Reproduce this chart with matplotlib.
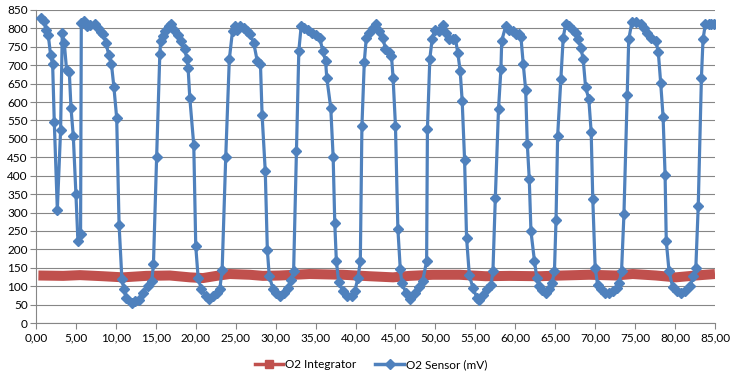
import matplotlib
matplotlib.use("Agg")
import matplotlib.pyplot as plt
from matplotlib.lines import Line2D
import numpy as np

plt.rcParams['font.family'] = ['Lato', 'DejaVu Sans']

sensor_x = [0.67, 1.04, 1.25, 1.54, 1.83, 2.08, 2.29, 2.67, 3.08, 3.29, 3.54, 3.83, 4.17, 4.38, 4.67,
            5.0, 5.25, 5.58, 5.67, 6.0, 6.4, 6.8, 7.4, 7.8, 8.1, 8.4, 8.75, 9.1, 9.45, 9.75,
            10.1, 10.4, 10.75, 11.0, 11.3, 11.96, 12.4, 12.9, 13.4, 14.0, 14.5, 14.7, 15.1, 15.5, 15.6,
            15.9, 16.1, 16.7, 16.96, 17.25, 17.8, 18.2, 18.6, 18.9, 19.04, 19.25, 19.75, 20.0, 20.3, 20.7,
            21.25, 21.7, 22.2, 22.6, 23.0, 23.3, 23.75, 24.2, 24.6, 24.9, 25.2, 25.6, 26.0, 26.4, 26.8,
            27.25, 27.7, 28.1, 28.3, 28.7, 28.96, 29.2, 29.7, 30.1, 30.6, 31.1, 31.5, 31.96, 32.25, 32.6,
            32.9, 33.2, 33.6, 34.0, 34.6, 35.1, 35.5, 35.9, 36.25, 36.4, 36.9, 37.2, 37.4, 37.6, 37.9,
            38.4, 38.9, 39.5, 39.9, 40.3, 40.6, 40.8, 41.1, 41.35, 41.7, 42.2, 42.6, 42.9, 43.4, 43.75,
            44.2, 44.5, 44.7, 45.0, 45.3, 45.6, 45.8, 46.3, 46.8, 47.4, 48.0, 48.4, 48.9, 49.0, 49.3,
            49.6, 49.9, 50.4, 50.9, 51.3, 51.75, 52.2, 52.5, 52.8, 53.1, 53.35, 53.65, 53.9, 54.25, 54.7,
            55.2, 55.5, 55.9, 56.4, 56.96, 57.2, 57.5, 57.9, 58.2, 58.3, 58.8, 59.25, 59.7, 60.1, 60.5,
            60.7, 61.0, 61.3, 61.5, 61.75, 61.96, 62.4, 62.7, 63.0, 63.4, 63.8, 64.25, 64.6, 64.9, 65.1,
            65.3, 65.7, 66.0, 66.3, 66.75, 67.25, 67.6, 67.9, 68.2, 68.5, 68.8, 69.2, 69.5, 69.7, 70.0,
            70.3, 70.7, 71.25, 71.75, 72.25, 72.7, 73.0, 73.3, 73.6, 74.0, 74.2, 74.6, 75.1, 75.7, 76.1,
            76.5, 76.96, 77.6, 77.9, 78.2, 78.5, 78.75, 78.9, 79.25, 79.7, 80.2, 80.7, 81.3, 81.9, 82.3,
            82.6, 82.9, 83.3, 83.5, 83.8, 84.2, 84.5, 84.9]
sensor_y = [827, 820, 797, 781, 727, 704, 545, 308, 525, 788, 760, 687, 681, 584, 507,
            349, 222, 243, 815, 820, 806, 810, 813, 802, 791, 784, 761, 729, 702, 641,
            557, 267, 120, 91, 68, 54, 59, 63, 82, 100, 115, 159, 450, 730, 766,
            779, 793, 807, 811, 797, 781, 766, 745, 716, 693, 612, 483, 208, 122, 91,
            72, 65, 74, 82, 91, 143, 450, 716, 793, 807, 797, 807, 800, 793, 784,
            761, 711, 702, 566, 412, 199, 127, 91, 82, 72, 82, 95, 118, 142, 468,
            739, 807, 802, 797, 788, 781, 775, 740, 711, 666, 584, 450, 272, 168, 111,
            86, 74, 72, 86, 122, 168, 535, 710, 775, 788, 802, 811, 793, 775, 745,
            736, 725, 666, 535, 256, 147, 109, 82, 65, 82, 98, 113, 168, 526, 718,
            772, 796, 793, 808, 788, 772, 772, 772, 734, 684, 603, 444, 231, 129, 95,
            68, 63, 77, 91, 104, 140, 340, 582, 689, 766, 807, 797, 793, 784, 784,
            778, 702, 633, 487, 390, 249, 168, 122, 100, 89, 82, 91, 109, 140, 281,
            508, 662, 775, 811, 807, 797, 788, 770, 748, 716, 640, 609, 518, 337, 150,
            104, 91, 82, 82, 86, 95, 109, 140, 295, 618, 770, 817, 817, 813, 802,
            788, 775, 766, 736, 652, 560, 403, 222, 140, 98, 86, 82, 86, 101, 127,
            150, 317, 666, 770, 813, 813, 813, 813]

integ_x = [0.3, 3.4, 5.5, 8.4, 10.9, 13.8, 16.75, 19.25, 20.9, 22.6, 24.25, 26.75, 28.4,
           30.5, 34.25, 38.4, 41.75, 44.7, 46.75, 49.7, 53.0, 56.3, 59.25, 63.0, 65.9,
           69.25, 72.6, 74.7, 77.6, 80.1, 82.6, 85.0]
integ_y = [129, 128, 130, 127, 124, 128, 129, 124, 122, 128, 133, 131, 128,
           129, 133, 131, 127, 124, 128, 131, 131, 127, 128, 127, 129,
           131, 129, 133, 129, 124, 129, 133]

x_ticks = np.arange(0, 86, 5)
y_ticks = np.arange(0, 851, 50)

blue = '#4F81BD'
red = '#C0504D'
grid = '#868686'

fig = plt.figure(figsize=(7.42, 3.85), dpi=100)
ax = fig.add_axes([36/742, 1-323/385, (715-36)/742, (323-10)/385])

ax.plot(integ_x, integ_y, color=red, lw=7.2, solid_capstyle='butt', solid_joinstyle='round', zorder=3)
ax.plot(sensor_x, sensor_y, color=blue, lw=2.3, marker='D', ms=5.4, mec=blue, mfc=blue,
        solid_joinstyle='round', zorder=4)

ax.set_xlim(0, 85)
ax.set_ylim(0, 850)
ax.set_xticks(x_ticks)
ax.set_xticklabels([f"{v:.2f}".replace('.', ',') for v in x_ticks])
ax.set_yticks(y_ticks)
ax.set_yticklabels([str(v) for v in y_ticks])
ax.yaxis.grid(True, color=grid, lw=0.8)
ax.set_axisbelow(True)
for s in ['top', 'right']:
    ax.spines[s].set_visible(False)
for s in ['left', 'bottom']:
    ax.spines[s].set_color(grid)
    ax.spines[s].set_linewidth(0.8)
ax.tick_params(axis='both', colors=grid, labelcolor='black', labelsize=8.5, length=4, width=0.8)
ax.tick_params(axis='x', pad=3)
ax.tick_params(axis='y', pad=2)

handles = [Line2D([], [], color=red, lw=2.5, marker='s', ms=6),
           Line2D([], [], color=blue, lw=2.5, marker='D', ms=5)]
fig.legend(handles, ['O2 Integrator', 'O2 Sensor (mV)'], loc='center', bbox_to_anchor=(0.5, 0.053),
           ncol=2, frameon=False, fontsize=8.5, handlelength=2.4, handletextpad=0.2, columnspacing=1.6)

fig.savefig('out.png', dpi=100)
